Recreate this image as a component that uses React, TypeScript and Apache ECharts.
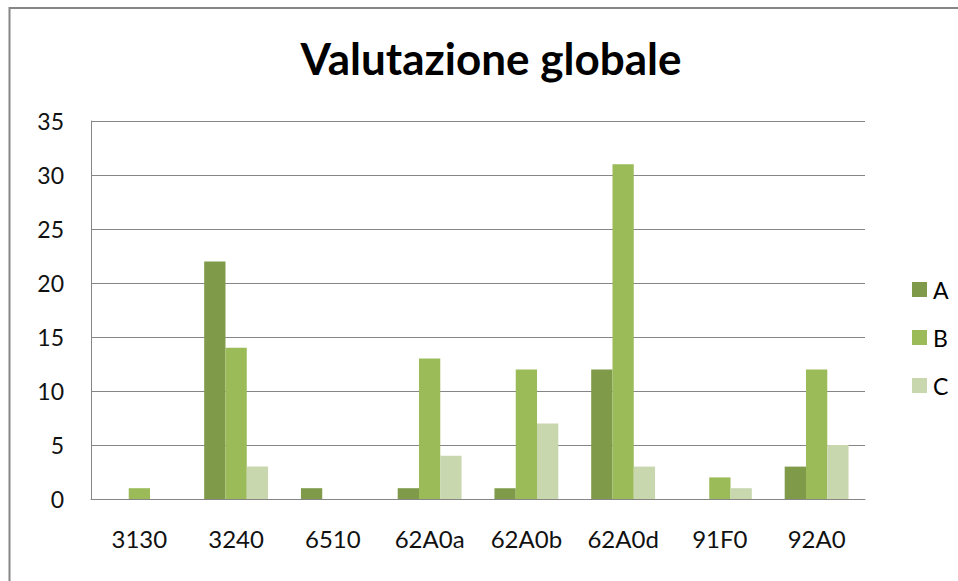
import React, { useEffect, useRef } from "react";
import * as echarts from "echarts";

const categories = ["3130", "3240", "6510", "62A0a", "62A0b", "62A0d", "91F0", "92A0"];
const seriesA = [0, 22, 1, 1, 1, 12, 0, 3];
const seriesB = [1, 14, 0, 13, 12, 31, 2, 12];
const seriesC = [0, 3, 0, 4, 7, 3, 1, 5];
const yTicks = { min: 0, max: 35, interval: 5 };

const FONT = "Lato";

export default function App() {
  const ref = useRef<HTMLDivElement>(null);
  useEffect(() => {
    if (!ref.current) return;
    const chart = echarts.init(ref.current, undefined, { renderer: "svg" });
    const mkSeries = (name: string, data: number[], color: string) => ({
      name,
      type: "bar",
      data,
      barGap: "0%",
      barCategoryGap: "34%",
      itemStyle: { color },
    });
    chart.setOption({
      animation: false,
      backgroundColor: "#ffffff",
      title: {
        text: "Valutazione globale",
        left: 486,
        textAlign: "center",
        top: 31,
        textStyle: { fontFamily: FONT, fontWeight: "bold", fontSize: 44, color: "#000" },
      },
      legend: {
        orient: "vertical",
        left: 907,
        top: 273,
        itemWidth: 15,
        itemHeight: 15,
        itemGap: 25,
        icon: "rect",
        textStyle: { fontFamily: FONT, fontSize: 23, color: "#000", padding: [0, 0, 0, 1] },
        data: ["A", "B", "C"],
      },
      grid: { left: 91, right: 93, top: 121, height: 378, containLabel: false },
      xAxis: {
        type: "category",
        data: categories,
        axisLine: { show: true, lineStyle: { color: "#868686", width: 1 } },
        axisTick: { show: false },
        axisLabel: { fontFamily: FONT, fontSize: 24, color: "#111", margin: 27 },
      },
      yAxis: {
        type: "value",
        min: yTicks.min,
        max: yTicks.max,
        interval: yTicks.interval,
        axisLine: { show: true, lineStyle: { color: "#868686", width: 1 } },
        axisTick: { show: false },
        splitLine: { show: true, lineStyle: { color: "#868686", width: 1 } },
        axisLabel: { fontFamily: FONT, fontSize: 23, color: "#111", margin: 27 },
      },
      graphic: [
        {
          type: "rect",
          shape: { x: 9.5, y: 8, width: 1000, height: 700 },
          style: { fill: "none", stroke: "#868686", lineWidth: 2 },
          silent: true,
        },
      ],
      series: [
        mkSeries("A", seriesA, "#7f9a48"),
        mkSeries("B", seriesB, "#9bbb59"),
        mkSeries("C", seriesC, "#c8d7ae"),
      ],
    });
    return () => chart.dispose();
  }, []);
  return (
    <div
      ref={ref}
      style={{ position: "fixed", left: 0, top: 0, width: 958, height: 581 }}
    />
  );
}
